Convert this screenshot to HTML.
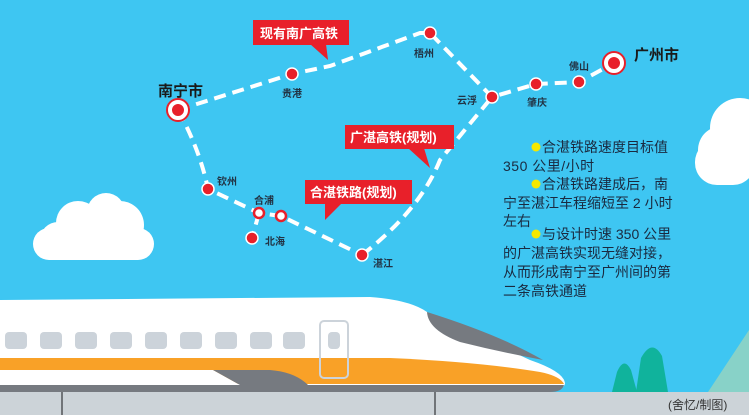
<!DOCTYPE html>
<html><head><meta charset="utf-8"><style>
html,body{margin:0;padding:0;}
body{width:749px;height:415px;overflow:hidden;background:#3ec6f2;}
svg{display:block;font-family:"Liberation Sans","Noto Sans CJK SC",sans-serif;}
</style></head><body>
<svg width="749" height="415" viewBox="0 0 749 415">
<rect width="749" height="415" fill="#3ec6f2"/>
<g fill="#fff">
<rect x="33" y="228" width="121" height="32" rx="16"/>
<circle cx="78" cy="223" r="22"/><circle cx="106" cy="212" r="19"/><circle cx="120" cy="225" r="24"/><circle cx="58" cy="240" r="18"/>
<circle cx="740" cy="128" r="30"/><circle cx="722" cy="150" r="24"/><rect x="695" y="140" width="60" height="45" rx="22"/>
</g>
<g fill="none" stroke="#fff" stroke-width="4" stroke-dasharray="12 7">
<path d="M178 110 L292 74 L330 66 L420 33 L430 33 L492 97 L536 84 L579 82 L614 63"/>
<path d="M178 110 Q200 150 208 189 L259 213 L281 216 L362 255"/>
<path d="M259 213 L252 238"/>
<path d="M362 255 Q420 210 440 160 L492 97"/>
</g>
<g stroke="#fff" stroke-width="2" fill="#e8202a">
<circle cx="178" cy="110" r="11" stroke="#e8202a" stroke-width="2" fill="#fff"/><circle cx="178" cy="110" r="7"/>
<circle cx="614" cy="63" r="11" stroke="#e8202a" stroke-width="2" fill="#fff"/><circle cx="614" cy="63" r="7"/>
</g>
<g fill="#e8202a" stroke="#fff" stroke-width="1.5">
<circle cx="292" cy="74" r="6"/><circle cx="430" cy="33" r="6"/><circle cx="492" cy="97" r="6"/>
<circle cx="536" cy="84" r="6"/><circle cx="579" cy="82" r="6"/><circle cx="208" cy="189" r="6"/>
<circle cx="252" cy="238" r="6"/><circle cx="362" cy="255" r="6"/>
</g>
<g fill="#fff" stroke="#e8202a" stroke-width="2.5">
<circle cx="259" cy="213" r="5"/><circle cx="281" cy="216" r="5"/>
</g>
<g fill="#1a1a1a" font-weight="bold">
<text x="158" y="96" font-size="15">南宁市</text>
<text x="634" y="60" font-size="15">广州市</text>
<g font-size="10" fill="#223344">
<text x="282" y="97">贵港</text><text x="414" y="57">梧州</text><text x="457" y="104">云浮</text>
<text x="527" y="106">肇庆</text><text x="569" y="70">佛山</text><text x="217" y="185">钦州</text>
<text x="254" y="204">合浦</text><text x="265" y="245">北海</text><text x="373" y="267">湛江</text>
</g>
</g>
<g fill="#e8202a">
<rect x="253" y="20" width="96" height="25"/><polygon points="310,44 326,44 328,60"/>
<rect x="345" y="125" width="109" height="24"/><polygon points="408,148 424,148 430,168"/>
<rect x="305" y="180" width="107" height="24"/><polygon points="325,203 342,203 325,220"/>
</g>
<g fill="#fff" font-size="13" font-weight="bold">
<text x="260" y="38">现有南广高铁</text>
<text x="350" y="142">广湛高铁(规划)</text>
<text x="310" y="197">合湛铁路(规划)</text>
</g>
<g font-size="14" fill="#1a2a40">
<circle cx="536" cy="147" r="4.5" fill="#f5e800"/>
<circle cx="536" cy="184" r="4.5" fill="#f5e800"/>
<circle cx="536" cy="234" r="4.5" fill="#f5e800"/>
<text x="542" y="152">合湛铁路速度目标值</text>
<text x="503" y="171" letter-spacing="0.5">350 公里/小时</text>
<text x="542" y="189">合湛铁路建成后，南</text>
<text x="503" y="208">宁至湛江车程缩短至 2 小时</text>
<text x="503" y="226">左右</text>
<text x="542" y="239">与设计时速 350 公里</text>
<text x="503" y="258">的广湛高铁实现无缝对接，</text>
<text x="503" y="277">从而形成南宁至广州间的第</text>
<text x="503" y="296">二条高铁通道</text>
</g>
<path d="M612 392 L617 372 Q624 356 631 370 L637 392 Z" fill="#10b39c"/>
<path d="M636 392 L641 358 Q652 338 662 356 L668 392 Z" fill="#10b39c"/>
<polygon points="708,392 749,330 749,392" fill="#88d2c8"/>
<rect x="0" y="392" width="749" height="23" fill="#ccd3d8"/>
<rect x="61" y="392" width="2" height="23" fill="#707478"/>
<rect x="434" y="392" width="2" height="23" fill="#707478"/>
<text x="668" y="409" font-size="12" fill="#333">(舍忆/制图)</text>
<path d="M0 300 L370 297 Q410 300 427 312 L530 360 Q565 372 565 384 Q562 392 540 392 L0 392 Z" fill="#fff"/>
<path d="M427 312 Q428 330 460 342 Q500 352 543 360 Q500 335 427 312 Z" fill="#767a80"/>
<path d="M0 358 L390 358 Q480 362 540 372 Q560 376 564 384 L0 384 Z" fill="#f9a127"/>
<path d="M0 370 L213 370 L240 385 L0 385 Z" fill="#fff"/>
<path d="M213 370 L270 370 Q295 372 308 385 L240 385 Z" fill="#767a80"/>
<path d="M0 385 L564 385 Q562 392 550 392 L0 392 Z" fill="#767a80"/>
<g fill="#ccd3da">
<rect x="5" y="332" width="22" height="17" rx="4"/><rect x="40" y="332" width="22" height="17" rx="4"/>
<rect x="75" y="332" width="22" height="17" rx="4"/><rect x="110" y="332" width="22" height="17" rx="4"/>
<rect x="145" y="332" width="22" height="17" rx="4"/><rect x="180" y="332" width="22" height="17" rx="4"/>
<rect x="215" y="332" width="22" height="17" rx="4"/><rect x="250" y="332" width="22" height="17" rx="4"/>
<rect x="283" y="332" width="22" height="17" rx="4"/><rect x="328" y="332" width="12" height="17" rx="4"/>
</g>
<rect x="320" y="321" width="28" height="57" rx="4" fill="none" stroke="#ccd3da" stroke-width="2"/>
</svg>
</body></html>
